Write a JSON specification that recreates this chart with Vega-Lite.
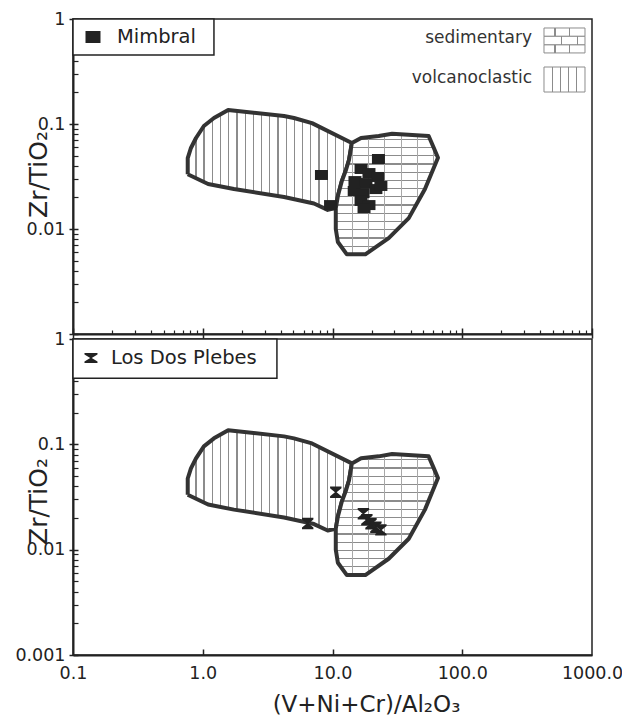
{
  "$schema": "https://vega.github.io/schema/vega-lite/v6.json",
  "padding": {"left": 14, "top": 9, "right": 0, "bottom": 0},
  "bounds": "flush",
  "spacing": 5,
  "background": "white",
  "config": {
    "view": {"stroke": "#222", "strokeWidth": 1.5},
    "axis": {"grid": false},
    "font": "DejaVu Sans"
  },
  "datasets": {
    "poly": [
      {"kind": "volc", "i": 1, "x": 0.766, "y": 0.0332},
      {"kind": "volc", "i": 2, "x": 0.766, "y": 0.0474},
      {"kind": "volc", "i": 3, "x": 0.811, "y": 0.0591},
      {"kind": "volc", "i": 4, "x": 0.887, "y": 0.0736},
      {"kind": "volc", "i": 5, "x": 1.02, "y": 0.0957},
      {"kind": "volc", "i": 6, "x": 1.22, "y": 0.114},
      {"kind": "volc", "i": 7, "x": 1.57, "y": 0.136},
      {"kind": "volc", "i": 8, "x": 4.23, "y": 0.119},
      {"kind": "volc", "i": 9, "x": 5.05, "y": 0.114},
      {"kind": "volc", "i": 10, "x": 6.95, "y": 0.102},
      {"kind": "volc", "i": 11, "x": 14.1, "y": 0.0659},
      {"kind": "volc", "i": 12, "x": 13.4, "y": 0.0454},
      {"kind": "volc", "i": 13, "x": 12.7, "y": 0.0365},
      {"kind": "volc", "i": 14, "x": 11.8, "y": 0.0286},
      {"kind": "volc", "i": 15, "x": 11.0, "y": 0.0206},
      {"kind": "volc", "i": 16, "x": 10.6, "y": 0.0158},
      {"kind": "volc", "i": 17, "x": 9.18, "y": 0.0152},
      {"kind": "volc", "i": 18, "x": 7.2, "y": 0.0175},
      {"kind": "volc", "i": 19, "x": 4.23, "y": 0.0202},
      {"kind": "volc", "i": 20, "x": 1.74, "y": 0.024},
      {"kind": "volc", "i": 21, "x": 1.1, "y": 0.0268},
      {"kind": "volc", "i": 22, "x": 0.766, "y": 0.0332},
      {"kind": "sed", "i": 1, "x": 14.1, "y": 0.0659},
      {"kind": "sed", "i": 2, "x": 16.6, "y": 0.0736},
      {"kind": "sed", "i": 3, "x": 22.7, "y": 0.0769},
      {"kind": "sed", "i": 4, "x": 28.8, "y": 0.0809},
      {"kind": "sed", "i": 5, "x": 55.1, "y": 0.0769},
      {"kind": "sed", "i": 6, "x": 60.3, "y": 0.0595},
      {"kind": "sed", "i": 7, "x": 65.0, "y": 0.0478},
      {"kind": "sed", "i": 8, "x": 51.6, "y": 0.024},
      {"kind": "sed", "i": 9, "x": 38.7, "y": 0.0127},
      {"kind": "sed", "i": 10, "x": 27.1, "y": 0.0082},
      {"kind": "sed", "i": 11, "x": 17.9, "y": 0.00574},
      {"kind": "sed", "i": 12, "x": 12.9, "y": 0.00574},
      {"kind": "sed", "i": 13, "x": 11.0, "y": 0.00752},
      {"kind": "sed", "i": 14, "x": 10.6, "y": 0.01},
      {"kind": "sed", "i": 15, "x": 10.6, "y": 0.0158},
      {"kind": "sed", "i": 16, "x": 11.0, "y": 0.0206},
      {"kind": "sed", "i": 17, "x": 11.8, "y": 0.0286},
      {"kind": "sed", "i": 18, "x": 12.7, "y": 0.0365},
      {"kind": "sed", "i": 19, "x": 13.4, "y": 0.0454},
      {"kind": "sed", "i": 20, "x": 14.1, "y": 0.0659}
    ],
    "pts": [
      {"site": "Mimbral", "x": 16.6, "y": 0.0373},
      {"site": "Mimbral", "x": 19.1, "y": 0.0341},
      {"site": "Mimbral", "x": 22.4, "y": 0.0313},
      {"site": "Mimbral", "x": 14.9, "y": 0.0286},
      {"site": "Mimbral", "x": 18.1, "y": 0.0274},
      {"site": "Mimbral", "x": 21.6, "y": 0.024},
      {"site": "Mimbral", "x": 14.7, "y": 0.023},
      {"site": "Mimbral", "x": 17.2, "y": 0.022},
      {"site": "Mimbral", "x": 16.6, "y": 0.0185},
      {"site": "Mimbral", "x": 19.1, "y": 0.0169},
      {"site": "Mimbral", "x": 17.5, "y": 0.0158},
      {"site": "Mimbral", "x": 22.6, "y": 0.0464},
      {"site": "Mimbral", "x": 8.22, "y": 0.0327},
      {"site": "Mimbral", "x": 9.66, "y": 0.0169},
      {"site": "Mimbral", "x": 23.6, "y": 0.0257},
      {"site": "Los Dos Plebes", "x": 10.6, "y": 0.0351},
      {"site": "Los Dos Plebes", "x": 6.44, "y": 0.0177},
      {"site": "Los Dos Plebes", "x": 17.3, "y": 0.0219},
      {"site": "Los Dos Plebes", "x": 18.4, "y": 0.0192},
      {"site": "Los Dos Plebes", "x": 19.8, "y": 0.0176},
      {"site": "Los Dos Plebes", "x": 21.6, "y": 0.0163},
      {"site": "Los Dos Plebes", "x": 23.6, "y": 0.0154}
    ],
    "leg": [
      {"panel": "top", "role": "box", "x": 0.1, "x2": 1.22, "y": 1, "y2": 0.454},
      {"panel": "top", "role": "sym", "x": 0.1426, "y": 0.674},
      {"panel": "top", "role": "lab", "x": 0.218, "y": 0.674, "label": "Mimbral"},
      {"panel": "top", "role": "plab", "x": 345, "y": 0.659, "label": "sedimentary"},
      {"panel": "top", "role": "plab", "x": 345, "y": 0.274, "label": "volcanoclastic"},
      {"panel": "top", "role": "vbox", "x": 426.6, "x2": 883, "y": 0.349, "y2": 0.2017},
      {"panel": "top", "role": "srow1", "x": 426.6, "x2": 883, "y": 0.821, "y2": 0.684},
      {"panel": "top", "role": "srow2", "x": 426.6, "x2": 883, "y": 0.684, "y2": 0.569},
      {"panel": "top", "role": "srow1", "x": 426.6, "x2": 883, "y": 0.569, "y2": 0.475},
      {"panel": "bottom", "role": "box", "x": 0.1, "x2": 3.73, "y": 1, "y2": 0.425},
      {"panel": "bottom", "role": "sym", "x": 0.1376, "y": 0.659},
      {"panel": "bottom", "role": "lab", "x": 0.196, "y": 0.659, "label": "Los Dos Plebes"}
    ]
  },
  "vconcat": [
    {
      "width": 519,
      "height": 315,
      "resolve": {"axis": {"x": "independent", "y": "independent"}},
      "layer": [
        {
          "data": {"name": "poly"},
          "transform": [{"filter": "datum.kind == 'volc'"}],
          "mark": {"type": "line", "stroke": "#333", "strokeWidth": 4, "strokeJoin": "round", "fill": {"gradient": "linear", "x1": 0, "y1": 0, "x2": 1, "y2": 0, "stops": [
            {"offset": 0, "color": "#fff"},
            {"offset": 0.046, "color": "#fff"}, {"offset": 0.046, "color": "#8c8c8c"}, {"offset": 0.054, "color": "#8c8c8c"}, {"offset": 0.054, "color": "#fff"},
            {"offset": 0.096, "color": "#fff"}, {"offset": 0.096, "color": "#8c8c8c"}, {"offset": 0.104, "color": "#8c8c8c"}, {"offset": 0.104, "color": "#fff"},
            {"offset": 0.146, "color": "#fff"}, {"offset": 0.146, "color": "#8c8c8c"}, {"offset": 0.154, "color": "#8c8c8c"}, {"offset": 0.154, "color": "#fff"},
            {"offset": 0.196, "color": "#fff"}, {"offset": 0.196, "color": "#8c8c8c"}, {"offset": 0.204, "color": "#8c8c8c"}, {"offset": 0.204, "color": "#fff"},
            {"offset": 0.246, "color": "#fff"}, {"offset": 0.246, "color": "#8c8c8c"}, {"offset": 0.254, "color": "#8c8c8c"}, {"offset": 0.254, "color": "#fff"},
            {"offset": 0.296, "color": "#fff"}, {"offset": 0.296, "color": "#8c8c8c"}, {"offset": 0.304, "color": "#8c8c8c"}, {"offset": 0.304, "color": "#fff"},
            {"offset": 0.346, "color": "#fff"}, {"offset": 0.346, "color": "#8c8c8c"}, {"offset": 0.354, "color": "#8c8c8c"}, {"offset": 0.354, "color": "#fff"},
            {"offset": 0.396, "color": "#fff"}, {"offset": 0.396, "color": "#8c8c8c"}, {"offset": 0.404, "color": "#8c8c8c"}, {"offset": 0.404, "color": "#fff"},
            {"offset": 0.446, "color": "#fff"}, {"offset": 0.446, "color": "#8c8c8c"}, {"offset": 0.454, "color": "#8c8c8c"}, {"offset": 0.454, "color": "#fff"},
            {"offset": 0.496, "color": "#fff"}, {"offset": 0.496, "color": "#8c8c8c"}, {"offset": 0.504, "color": "#8c8c8c"}, {"offset": 0.504, "color": "#fff"},
            {"offset": 0.546, "color": "#fff"}, {"offset": 0.546, "color": "#8c8c8c"}, {"offset": 0.554, "color": "#8c8c8c"}, {"offset": 0.554, "color": "#fff"},
            {"offset": 0.596, "color": "#fff"}, {"offset": 0.596, "color": "#8c8c8c"}, {"offset": 0.604, "color": "#8c8c8c"}, {"offset": 0.604, "color": "#fff"},
            {"offset": 0.646, "color": "#fff"}, {"offset": 0.646, "color": "#8c8c8c"}, {"offset": 0.654, "color": "#8c8c8c"}, {"offset": 0.654, "color": "#fff"},
            {"offset": 0.696, "color": "#fff"}, {"offset": 0.696, "color": "#8c8c8c"}, {"offset": 0.704, "color": "#8c8c8c"}, {"offset": 0.704, "color": "#fff"},
            {"offset": 0.746, "color": "#fff"}, {"offset": 0.746, "color": "#8c8c8c"}, {"offset": 0.754, "color": "#8c8c8c"}, {"offset": 0.754, "color": "#fff"},
            {"offset": 0.796, "color": "#fff"}, {"offset": 0.796, "color": "#8c8c8c"}, {"offset": 0.804, "color": "#8c8c8c"}, {"offset": 0.804, "color": "#fff"},
            {"offset": 0.846, "color": "#fff"}, {"offset": 0.846, "color": "#8c8c8c"}, {"offset": 0.854, "color": "#8c8c8c"}, {"offset": 0.854, "color": "#fff"},
            {"offset": 0.896, "color": "#fff"}, {"offset": 0.896, "color": "#8c8c8c"}, {"offset": 0.904, "color": "#8c8c8c"}, {"offset": 0.904, "color": "#fff"},
            {"offset": 0.946, "color": "#fff"}, {"offset": 0.946, "color": "#8c8c8c"}, {"offset": 0.954, "color": "#8c8c8c"}, {"offset": 0.954, "color": "#fff"},
            {"offset": 1, "color": "#fff"}]}},
          "encoding": {
            "x": {"field": "x", "type": "quantitative", "scale": {"type": "log", "domain": [0.1, 1000], "nice": false},
              "axis": {"orient": "bottom", "values": [0.1, 1, 10, 100, 1000], "labels": false, "ticks": false, "domainColor": "#222", "domainWidth": 2, "title": null}},
            "y": {"field": "y", "type": "quantitative", "scale": {"type": "log", "domain": [0.001, 1], "nice": false},
              "axis": {"orient": "left", "values": [0.01, 0.1, 1], "format": "~g", "labelFlush": false, "labelOverlap": false, "ticks": false, "domainColor": "#222", "domainWidth": 2, "labelFont": "DejaVu Sans", "labelFontSize": 17.5, "labelColor": "#222", "labelPadding": 8,
                "title": "Zr/TiO₂", "titleFont": "DejaVu Sans", "titleFontSize": 25, "titleFontWeight": "normal", "titleColor": "#222", "titleX": -27, "titleY": 155, "titleBaseline": "alphabetic", "titleAlign": "center", "titleAngle": -90}},
            "order": {"field": "i", "type": "quantitative"}
          }
        },
        {
          "data": {"name": "poly"},
          "transform": [{"filter": "datum.kind == 'sed'"}],
          "mark": {"type": "line", "strokeWidth": 0, "stroke": "#333", "fill": {"gradient": "linear", "x1": 0, "y1": 0, "x2": 0, "y2": 1, "stops": [
            {"offset": 0, "color": "#fff"},
            {"offset": 0.043, "color": "#fff"}, {"offset": 0.043, "color": "#8c8c8c"}, {"offset": 0.053, "color": "#8c8c8c"}, {"offset": 0.053, "color": "#fff"},
            {"offset": 0.111, "color": "#fff"}, {"offset": 0.111, "color": "#8c8c8c"}, {"offset": 0.121, "color": "#8c8c8c"}, {"offset": 0.121, "color": "#fff"},
            {"offset": 0.179, "color": "#fff"}, {"offset": 0.179, "color": "#8c8c8c"}, {"offset": 0.189, "color": "#8c8c8c"}, {"offset": 0.189, "color": "#fff"},
            {"offset": 0.247, "color": "#fff"}, {"offset": 0.247, "color": "#8c8c8c"}, {"offset": 0.257, "color": "#8c8c8c"}, {"offset": 0.257, "color": "#fff"},
            {"offset": 0.315, "color": "#fff"}, {"offset": 0.315, "color": "#8c8c8c"}, {"offset": 0.325, "color": "#8c8c8c"}, {"offset": 0.325, "color": "#fff"},
            {"offset": 0.383, "color": "#fff"}, {"offset": 0.383, "color": "#8c8c8c"}, {"offset": 0.393, "color": "#8c8c8c"}, {"offset": 0.393, "color": "#fff"},
            {"offset": 0.451, "color": "#fff"}, {"offset": 0.451, "color": "#8c8c8c"}, {"offset": 0.461, "color": "#8c8c8c"}, {"offset": 0.461, "color": "#fff"},
            {"offset": 0.519, "color": "#fff"}, {"offset": 0.519, "color": "#8c8c8c"}, {"offset": 0.529, "color": "#8c8c8c"}, {"offset": 0.529, "color": "#fff"},
            {"offset": 0.587, "color": "#fff"}, {"offset": 0.587, "color": "#8c8c8c"}, {"offset": 0.597, "color": "#8c8c8c"}, {"offset": 0.597, "color": "#fff"},
            {"offset": 0.655, "color": "#fff"}, {"offset": 0.655, "color": "#8c8c8c"}, {"offset": 0.665, "color": "#8c8c8c"}, {"offset": 0.665, "color": "#fff"},
            {"offset": 0.723, "color": "#fff"}, {"offset": 0.723, "color": "#8c8c8c"}, {"offset": 0.733, "color": "#8c8c8c"}, {"offset": 0.733, "color": "#fff"},
            {"offset": 0.791, "color": "#fff"}, {"offset": 0.791, "color": "#8c8c8c"}, {"offset": 0.801, "color": "#8c8c8c"}, {"offset": 0.801, "color": "#fff"},
            {"offset": 0.859, "color": "#fff"}, {"offset": 0.859, "color": "#8c8c8c"}, {"offset": 0.869, "color": "#8c8c8c"}, {"offset": 0.869, "color": "#fff"},
            {"offset": 0.927, "color": "#fff"}, {"offset": 0.927, "color": "#8c8c8c"}, {"offset": 0.937, "color": "#8c8c8c"}, {"offset": 0.937, "color": "#fff"},
            {"offset": 1, "color": "#fff"}]}},
          "encoding": {
            "x": {"field": "x", "type": "quantitative", "scale": {"type": "log", "domain": [0.1, 1000], "nice": false},
              "axis": {"orient": "bottom", "values": [0.1, 1, 10, 100, 1000], "labels": false, "domain": false, "tickSize": 10, "offset": -6, "tickWidth": 1.5, "tickColor": "#222", "title": null}},
            "y": {"field": "y", "type": "quantitative", "scale": {"type": "log", "domain": [0.001, 1], "nice": false},
              "axis": {"orient": "left", "values": [0.001, 0.01, 0.1, 1], "labels": false, "domain": false, "tickSize": 9, "offset": -5, "tickWidth": 1.5, "tickColor": "#222", "title": null}},
            "order": {"field": "i", "type": "quantitative"}
          }
        },
        {
          "data": {"name": "poly"},
          "transform": [{"filter": "datum.kind == 'sed'"}],
          "mark": {"type": "line", "stroke": "#333", "strokeWidth": 4, "strokeJoin": "round", "fill": {"gradient": "linear", "x1": 0, "y1": 0, "x2": 1, "y2": 0, "stops": [
            {"offset": 0, "color": "rgba(255,255,255,0)"},
            {"offset": 0.155, "color": "rgba(255,255,255,0)"}, {"offset": 0.155, "color": "#a8a8a8"}, {"offset": 0.165, "color": "#a8a8a8"}, {"offset": 0.165, "color": "rgba(255,255,255,0)"},
            {"offset": 0.315, "color": "rgba(255,255,255,0)"}, {"offset": 0.315, "color": "#a8a8a8"}, {"offset": 0.325, "color": "#a8a8a8"}, {"offset": 0.325, "color": "rgba(255,255,255,0)"},
            {"offset": 0.475, "color": "rgba(255,255,255,0)"}, {"offset": 0.475, "color": "#a8a8a8"}, {"offset": 0.485, "color": "#a8a8a8"}, {"offset": 0.485, "color": "rgba(255,255,255,0)"},
            {"offset": 0.635, "color": "rgba(255,255,255,0)"}, {"offset": 0.635, "color": "#a8a8a8"}, {"offset": 0.645, "color": "#a8a8a8"}, {"offset": 0.645, "color": "rgba(255,255,255,0)"},
            {"offset": 0.795, "color": "rgba(255,255,255,0)"}, {"offset": 0.795, "color": "#a8a8a8"}, {"offset": 0.805, "color": "#a8a8a8"}, {"offset": 0.805, "color": "rgba(255,255,255,0)"},
            {"offset": 0.955, "color": "rgba(255,255,255,0)"}, {"offset": 0.955, "color": "#a8a8a8"}, {"offset": 0.965, "color": "#a8a8a8"}, {"offset": 0.965, "color": "rgba(255,255,255,0)"},
            {"offset": 1, "color": "rgba(255,255,255,0)"}]}},
          "encoding": {
            "x": {"field": "x", "type": "quantitative", "scale": {"type": "log", "domain": [0.1, 1000], "nice": false}, "axis": null},
            "y": {"field": "y", "type": "quantitative", "scale": {"type": "log", "domain": [0.001, 1], "nice": false}, "axis": null},
            "order": {"field": "i", "type": "quantitative"}
          }
        },
        {
          "data": {"name": "pts"},
          "transform": [{"filter": "datum.site == 'Mimbral'"}],
          "mark": {"type": "point", "shape": "M-1.3,-1H1.3V1H-1.3Z", "size": 100, "filled": true, "color": "#222", "opacity": 1, "strokeWidth": 0},
          "encoding": {
            "x": {"field": "x", "type": "quantitative", "scale": {"type": "log", "domain": [0.1, 1000], "nice": false},
              "axis": {"orient": "bottom", "values": [0.2, 0.3, 0.4, 0.5, 0.6, 0.7, 0.8, 0.9, 2, 3, 4, 5, 6, 7, 8, 9, 20, 30, 40, 50, 60, 70, 80, 90, 200, 300, 400, 500, 600, 700, 800, 900], "labels": false, "domain": false, "tickSize": 4, "offset": -4, "tickWidth": 1.2, "tickColor": "#222", "title": null}},
            "y": {"field": "y", "type": "quantitative", "scale": {"type": "log", "domain": [0.001, 1], "nice": false},
              "axis": {"orient": "left", "values": [0.002, 0.003, 0.004, 0.005, 0.006, 0.007, 0.008, 0.009, 0.02, 0.03, 0.04, 0.05, 0.06, 0.07, 0.08, 0.09, 0.2, 0.3, 0.4, 0.5, 0.6, 0.7, 0.8, 0.9], "labels": false, "domain": false, "tickSize": 5, "offset": -5, "tickWidth": 1.2, "tickColor": "#222", "title": null}}
          }
        },
        {
          "data": {"name": "leg"},
          "transform": [{"filter": "datum.panel == 'top' && datum.role == 'box'"}],
          "mark": {"type": "rect", "fill": "white", "stroke": "#222", "strokeWidth": 1.5},
          "encoding": {
            "x": {"field": "x", "type": "quantitative", "scale": {"type": "log", "domain": [0.1, 1000], "nice": false}, "axis": null},
            "x2": {"field": "x2"},
            "y": {"field": "y", "type": "quantitative", "scale": {"type": "log", "domain": [0.001, 1], "nice": false}, "axis": null},
            "y2": {"field": "y2"}
          }
        },
        {
          "data": {"name": "leg"},
          "transform": [{"filter": "datum.panel == 'top' && datum.role == 'sym'"}],
          "mark": {"type": "point", "shape": "M-1.25,-1H1.25V1H-1.25Z", "size": 144, "filled": true, "color": "#222", "opacity": 1, "strokeWidth": 0},
          "encoding": {
            "x": {"field": "x", "type": "quantitative", "scale": {"type": "log", "domain": [0.1, 1000], "nice": false}, "axis": null},
            "y": {"field": "y", "type": "quantitative", "scale": {"type": "log", "domain": [0.001, 1], "nice": false}, "axis": null}
          }
        },
        {
          "data": {"name": "leg"},
          "transform": [{"filter": "datum.panel == 'top' && datum.role == 'lab'"}],
          "mark": {"type": "text", "align": "left", "baseline": "middle", "font": "DejaVu Sans", "fontSize": 19.5, "color": "#222"},
          "encoding": {
            "x": {"field": "x", "type": "quantitative", "scale": {"type": "log", "domain": [0.1, 1000], "nice": false}, "axis": null},
            "y": {"field": "y", "type": "quantitative", "scale": {"type": "log", "domain": [0.001, 1], "nice": false}, "axis": null},
            "text": {"field": "label"}
          }
        },
        {
          "data": {"name": "leg"},
          "transform": [{"filter": "datum.panel == 'top' && datum.role == 'plab'"}],
          "mark": {"type": "text", "align": "right", "baseline": "middle", "font": "DejaVu Sans", "fontSize": 17, "color": "#333"},
          "encoding": {
            "x": {"field": "x", "type": "quantitative", "scale": {"type": "log", "domain": [0.1, 1000], "nice": false}, "axis": null},
            "y": {"field": "y", "type": "quantitative", "scale": {"type": "log", "domain": [0.001, 1], "nice": false}, "axis": null},
            "text": {"field": "label"}
          }
        },
        {
          "data": {"name": "leg"},
          "transform": [{"filter": "datum.role == 'vbox'"}],
          "mark": {"type": "rect", "stroke": "#8c8c8c", "strokeWidth": 1, "fill": {"gradient": "linear", "x1": 0, "y1": 0, "x2": 1, "y2": 0, "stops": [
            {"offset": 0, "color": "#fff"},
            {"offset": 0.186, "color": "#fff"}, {"offset": 0.186, "color": "#8c8c8c"}, {"offset": 0.214, "color": "#8c8c8c"}, {"offset": 0.214, "color": "#fff"},
            {"offset": 0.386, "color": "#fff"}, {"offset": 0.386, "color": "#8c8c8c"}, {"offset": 0.414, "color": "#8c8c8c"}, {"offset": 0.414, "color": "#fff"},
            {"offset": 0.586, "color": "#fff"}, {"offset": 0.586, "color": "#8c8c8c"}, {"offset": 0.614, "color": "#8c8c8c"}, {"offset": 0.614, "color": "#fff"},
            {"offset": 0.786, "color": "#fff"}, {"offset": 0.786, "color": "#8c8c8c"}, {"offset": 0.814, "color": "#8c8c8c"}, {"offset": 0.814, "color": "#fff"},
            {"offset": 1, "color": "#fff"}]}},
          "encoding": {
            "x": {"field": "x", "type": "quantitative", "scale": {"type": "log", "domain": [0.1, 1000], "nice": false}, "axis": null},
            "x2": {"field": "x2"},
            "y": {"field": "y", "type": "quantitative", "scale": {"type": "log", "domain": [0.001, 1], "nice": false}, "axis": null},
            "y2": {"field": "y2"}
          }
        },
        {
          "data": {"name": "leg"},
          "transform": [{"filter": "datum.role == 'srow1'"}],
          "mark": {"type": "rect", "stroke": "#8c8c8c", "strokeWidth": 1, "fill": {"gradient": "linear", "x1": 0, "y1": 0, "x2": 1, "y2": 0, "stops": [
            {"offset": 0, "color": "#fff"},
            {"offset": 0.256, "color": "#fff"}, {"offset": 0.256, "color": "#8c8c8c"}, {"offset": 0.284, "color": "#8c8c8c"}, {"offset": 0.284, "color": "#fff"},
            {"offset": 0.616, "color": "#fff"}, {"offset": 0.616, "color": "#8c8c8c"}, {"offset": 0.644, "color": "#8c8c8c"}, {"offset": 0.644, "color": "#fff"},
            {"offset": 1, "color": "#fff"}]}},
          "encoding": {
            "x": {"field": "x", "type": "quantitative", "scale": {"type": "log", "domain": [0.1, 1000], "nice": false}, "axis": null},
            "x2": {"field": "x2"},
            "y": {"field": "y", "type": "quantitative", "scale": {"type": "log", "domain": [0.001, 1], "nice": false}, "axis": null},
            "y2": {"field": "y2"}
          }
        },
        {
          "data": {"name": "leg"},
          "transform": [{"filter": "datum.role == 'srow2'"}],
          "mark": {"type": "rect", "stroke": "#8c8c8c", "strokeWidth": 1, "fill": {"gradient": "linear", "x1": 0, "y1": 0, "x2": 1, "y2": 0, "stops": [
            {"offset": 0, "color": "#fff"},
            {"offset": 0.416, "color": "#fff"}, {"offset": 0.416, "color": "#8c8c8c"}, {"offset": 0.444, "color": "#8c8c8c"}, {"offset": 0.444, "color": "#fff"},
            {"offset": 0.806, "color": "#fff"}, {"offset": 0.806, "color": "#8c8c8c"}, {"offset": 0.834, "color": "#8c8c8c"}, {"offset": 0.834, "color": "#fff"},
            {"offset": 1, "color": "#fff"}]}},
          "encoding": {
            "x": {"field": "x", "type": "quantitative", "scale": {"type": "log", "domain": [0.1, 1000], "nice": false}, "axis": null},
            "x2": {"field": "x2"},
            "y": {"field": "y", "type": "quantitative", "scale": {"type": "log", "domain": [0.001, 1], "nice": false}, "axis": null},
            "y2": {"field": "y2"}
          }
        }
      ]
    },
    {
      "width": 519,
      "height": 316,
      "resolve": {"axis": {"x": "independent", "y": "independent"}},
      "layer": [
        {
          "data": {"name": "poly"},
          "transform": [{"filter": "datum.kind == 'volc'"}],
          "mark": {"type": "line", "stroke": "#333", "strokeWidth": 4, "strokeJoin": "round", "fill": {"gradient": "linear", "x1": 0, "y1": 0, "x2": 1, "y2": 0, "stops": [
            {"offset": 0, "color": "#fff"},
            {"offset": 0.046, "color": "#fff"}, {"offset": 0.046, "color": "#8c8c8c"}, {"offset": 0.054, "color": "#8c8c8c"}, {"offset": 0.054, "color": "#fff"},
            {"offset": 0.096, "color": "#fff"}, {"offset": 0.096, "color": "#8c8c8c"}, {"offset": 0.104, "color": "#8c8c8c"}, {"offset": 0.104, "color": "#fff"},
            {"offset": 0.146, "color": "#fff"}, {"offset": 0.146, "color": "#8c8c8c"}, {"offset": 0.154, "color": "#8c8c8c"}, {"offset": 0.154, "color": "#fff"},
            {"offset": 0.196, "color": "#fff"}, {"offset": 0.196, "color": "#8c8c8c"}, {"offset": 0.204, "color": "#8c8c8c"}, {"offset": 0.204, "color": "#fff"},
            {"offset": 0.246, "color": "#fff"}, {"offset": 0.246, "color": "#8c8c8c"}, {"offset": 0.254, "color": "#8c8c8c"}, {"offset": 0.254, "color": "#fff"},
            {"offset": 0.296, "color": "#fff"}, {"offset": 0.296, "color": "#8c8c8c"}, {"offset": 0.304, "color": "#8c8c8c"}, {"offset": 0.304, "color": "#fff"},
            {"offset": 0.346, "color": "#fff"}, {"offset": 0.346, "color": "#8c8c8c"}, {"offset": 0.354, "color": "#8c8c8c"}, {"offset": 0.354, "color": "#fff"},
            {"offset": 0.396, "color": "#fff"}, {"offset": 0.396, "color": "#8c8c8c"}, {"offset": 0.404, "color": "#8c8c8c"}, {"offset": 0.404, "color": "#fff"},
            {"offset": 0.446, "color": "#fff"}, {"offset": 0.446, "color": "#8c8c8c"}, {"offset": 0.454, "color": "#8c8c8c"}, {"offset": 0.454, "color": "#fff"},
            {"offset": 0.496, "color": "#fff"}, {"offset": 0.496, "color": "#8c8c8c"}, {"offset": 0.504, "color": "#8c8c8c"}, {"offset": 0.504, "color": "#fff"},
            {"offset": 0.546, "color": "#fff"}, {"offset": 0.546, "color": "#8c8c8c"}, {"offset": 0.554, "color": "#8c8c8c"}, {"offset": 0.554, "color": "#fff"},
            {"offset": 0.596, "color": "#fff"}, {"offset": 0.596, "color": "#8c8c8c"}, {"offset": 0.604, "color": "#8c8c8c"}, {"offset": 0.604, "color": "#fff"},
            {"offset": 0.646, "color": "#fff"}, {"offset": 0.646, "color": "#8c8c8c"}, {"offset": 0.654, "color": "#8c8c8c"}, {"offset": 0.654, "color": "#fff"},
            {"offset": 0.696, "color": "#fff"}, {"offset": 0.696, "color": "#8c8c8c"}, {"offset": 0.704, "color": "#8c8c8c"}, {"offset": 0.704, "color": "#fff"},
            {"offset": 0.746, "color": "#fff"}, {"offset": 0.746, "color": "#8c8c8c"}, {"offset": 0.754, "color": "#8c8c8c"}, {"offset": 0.754, "color": "#fff"},
            {"offset": 0.796, "color": "#fff"}, {"offset": 0.796, "color": "#8c8c8c"}, {"offset": 0.804, "color": "#8c8c8c"}, {"offset": 0.804, "color": "#fff"},
            {"offset": 0.846, "color": "#fff"}, {"offset": 0.846, "color": "#8c8c8c"}, {"offset": 0.854, "color": "#8c8c8c"}, {"offset": 0.854, "color": "#fff"},
            {"offset": 0.896, "color": "#fff"}, {"offset": 0.896, "color": "#8c8c8c"}, {"offset": 0.904, "color": "#8c8c8c"}, {"offset": 0.904, "color": "#fff"},
            {"offset": 0.946, "color": "#fff"}, {"offset": 0.946, "color": "#8c8c8c"}, {"offset": 0.954, "color": "#8c8c8c"}, {"offset": 0.954, "color": "#fff"},
            {"offset": 1, "color": "#fff"}]}},
          "encoding": {
            "x": {"field": "x", "type": "quantitative", "scale": {"type": "log", "domain": [0.1, 1000], "nice": false},
              "axis": {"orient": "bottom", "values": [0.1, 1, 10, 100, 1000], "format": ".1f", "labelFlush": false, "labelOverlap": false, "ticks": false, "domainColor": "#222", "domainWidth": 2, "labelFont": "DejaVu Sans", "labelFontSize": 17.5, "labelColor": "#222", "labelPadding": 9,
                "title": "(V+Ni+Cr)/Al₂O₃", "titleFont": "DejaVu Sans", "titleFontSize": 23, "titleFontWeight": "normal", "titleColor": "#222", "titleX": 293, "titleY": 56, "titleBaseline": "alphabetic", "titleAlign": "center"}},
            "y": {"field": "y", "type": "quantitative", "scale": {"type": "log", "domain": [0.001, 1], "nice": false},
              "axis": {"orient": "left", "values": [0.001, 0.01, 0.1, 1], "format": "~g", "labelFlush": false, "labelOverlap": false, "ticks": false, "domainColor": "#222", "domainWidth": 2, "labelFont": "DejaVu Sans", "labelFontSize": 17.5, "labelColor": "#222", "labelPadding": 8,
                "title": "Zr/TiO₂", "titleFont": "DejaVu Sans", "titleFontSize": 25, "titleFontWeight": "normal", "titleColor": "#222", "titleX": -27, "titleY": 162, "titleBaseline": "alphabetic", "titleAlign": "center", "titleAngle": -90}},
            "order": {"field": "i", "type": "quantitative"}
          }
        },
        {
          "data": {"name": "poly"},
          "transform": [{"filter": "datum.kind == 'sed'"}],
          "mark": {"type": "line", "strokeWidth": 0, "stroke": "#333", "fill": {"gradient": "linear", "x1": 0, "y1": 0, "x2": 0, "y2": 1, "stops": [
            {"offset": 0, "color": "#fff"},
            {"offset": 0.043, "color": "#fff"}, {"offset": 0.043, "color": "#8c8c8c"}, {"offset": 0.053, "color": "#8c8c8c"}, {"offset": 0.053, "color": "#fff"},
            {"offset": 0.111, "color": "#fff"}, {"offset": 0.111, "color": "#8c8c8c"}, {"offset": 0.121, "color": "#8c8c8c"}, {"offset": 0.121, "color": "#fff"},
            {"offset": 0.179, "color": "#fff"}, {"offset": 0.179, "color": "#8c8c8c"}, {"offset": 0.189, "color": "#8c8c8c"}, {"offset": 0.189, "color": "#fff"},
            {"offset": 0.247, "color": "#fff"}, {"offset": 0.247, "color": "#8c8c8c"}, {"offset": 0.257, "color": "#8c8c8c"}, {"offset": 0.257, "color": "#fff"},
            {"offset": 0.315, "color": "#fff"}, {"offset": 0.315, "color": "#8c8c8c"}, {"offset": 0.325, "color": "#8c8c8c"}, {"offset": 0.325, "color": "#fff"},
            {"offset": 0.383, "color": "#fff"}, {"offset": 0.383, "color": "#8c8c8c"}, {"offset": 0.393, "color": "#8c8c8c"}, {"offset": 0.393, "color": "#fff"},
            {"offset": 0.451, "color": "#fff"}, {"offset": 0.451, "color": "#8c8c8c"}, {"offset": 0.461, "color": "#8c8c8c"}, {"offset": 0.461, "color": "#fff"},
            {"offset": 0.519, "color": "#fff"}, {"offset": 0.519, "color": "#8c8c8c"}, {"offset": 0.529, "color": "#8c8c8c"}, {"offset": 0.529, "color": "#fff"},
            {"offset": 0.587, "color": "#fff"}, {"offset": 0.587, "color": "#8c8c8c"}, {"offset": 0.597, "color": "#8c8c8c"}, {"offset": 0.597, "color": "#fff"},
            {"offset": 0.655, "color": "#fff"}, {"offset": 0.655, "color": "#8c8c8c"}, {"offset": 0.665, "color": "#8c8c8c"}, {"offset": 0.665, "color": "#fff"},
            {"offset": 0.723, "color": "#fff"}, {"offset": 0.723, "color": "#8c8c8c"}, {"offset": 0.733, "color": "#8c8c8c"}, {"offset": 0.733, "color": "#fff"},
            {"offset": 0.791, "color": "#fff"}, {"offset": 0.791, "color": "#8c8c8c"}, {"offset": 0.801, "color": "#8c8c8c"}, {"offset": 0.801, "color": "#fff"},
            {"offset": 0.859, "color": "#fff"}, {"offset": 0.859, "color": "#8c8c8c"}, {"offset": 0.869, "color": "#8c8c8c"}, {"offset": 0.869, "color": "#fff"},
            {"offset": 0.927, "color": "#fff"}, {"offset": 0.927, "color": "#8c8c8c"}, {"offset": 0.937, "color": "#8c8c8c"}, {"offset": 0.937, "color": "#fff"},
            {"offset": 1, "color": "#fff"}]}},
          "encoding": {
            "x": {"field": "x", "type": "quantitative", "scale": {"type": "log", "domain": [0.1, 1000], "nice": false},
              "axis": {"orient": "bottom", "values": [1, 10, 100], "labels": false, "domain": false, "tickSize": 6, "offset": -6, "tickWidth": 1.5, "tickColor": "#222", "title": null}},
            "y": {"field": "y", "type": "quantitative", "scale": {"type": "log", "domain": [0.001, 1], "nice": false},
              "axis": {"orient": "left", "values": [0.001, 0.01, 0.1, 1], "labels": false, "domain": false, "tickSize": 9, "offset": -5, "tickWidth": 1.5, "tickColor": "#222", "title": null}},
            "order": {"field": "i", "type": "quantitative"}
          }
        },
        {
          "data": {"name": "poly"},
          "transform": [{"filter": "datum.kind == 'sed'"}],
          "mark": {"type": "line", "stroke": "#333", "strokeWidth": 4, "strokeJoin": "round", "fill": {"gradient": "linear", "x1": 0, "y1": 0, "x2": 1, "y2": 0, "stops": [
            {"offset": 0, "color": "rgba(255,255,255,0)"},
            {"offset": 0.155, "color": "rgba(255,255,255,0)"}, {"offset": 0.155, "color": "#a8a8a8"}, {"offset": 0.165, "color": "#a8a8a8"}, {"offset": 0.165, "color": "rgba(255,255,255,0)"},
            {"offset": 0.315, "color": "rgba(255,255,255,0)"}, {"offset": 0.315, "color": "#a8a8a8"}, {"offset": 0.325, "color": "#a8a8a8"}, {"offset": 0.325, "color": "rgba(255,255,255,0)"},
            {"offset": 0.475, "color": "rgba(255,255,255,0)"}, {"offset": 0.475, "color": "#a8a8a8"}, {"offset": 0.485, "color": "#a8a8a8"}, {"offset": 0.485, "color": "rgba(255,255,255,0)"},
            {"offset": 0.635, "color": "rgba(255,255,255,0)"}, {"offset": 0.635, "color": "#a8a8a8"}, {"offset": 0.645, "color": "#a8a8a8"}, {"offset": 0.645, "color": "rgba(255,255,255,0)"},
            {"offset": 0.795, "color": "rgba(255,255,255,0)"}, {"offset": 0.795, "color": "#a8a8a8"}, {"offset": 0.805, "color": "#a8a8a8"}, {"offset": 0.805, "color": "rgba(255,255,255,0)"},
            {"offset": 0.955, "color": "rgba(255,255,255,0)"}, {"offset": 0.955, "color": "#a8a8a8"}, {"offset": 0.965, "color": "#a8a8a8"}, {"offset": 0.965, "color": "rgba(255,255,255,0)"},
            {"offset": 1, "color": "rgba(255,255,255,0)"}]}},
          "encoding": {
            "x": {"field": "x", "type": "quantitative", "scale": {"type": "log", "domain": [0.1, 1000], "nice": false}, "axis": null},
            "y": {"field": "y", "type": "quantitative", "scale": {"type": "log", "domain": [0.001, 1], "nice": false}, "axis": null},
            "order": {"field": "i", "type": "quantitative"}
          }
        },
        {
          "data": {"name": "pts"},
          "transform": [{"filter": "datum.site == 'Los Dos Plebes'"}],
          "mark": {"type": "point", "shape": "M-1,-1H1V-0.7L0.15,0L1,0.7V1H-1V0.7L-0.15,0L-1,-0.7Z", "size": 130, "filled": true, "color": "#222", "opacity": 1, "strokeWidth": 0},
          "encoding": {
            "x": {"field": "x", "type": "quantitative", "scale": {"type": "log", "domain": [0.1, 1000], "nice": false}, "axis": null},
            "y": {"field": "y", "type": "quantitative", "scale": {"type": "log", "domain": [0.001, 1], "nice": false},
              "axis": {"orient": "left", "values": [0.002, 0.003, 0.004, 0.005, 0.006, 0.007, 0.008, 0.009, 0.02, 0.03, 0.04, 0.05, 0.06, 0.07, 0.08, 0.09, 0.2, 0.3, 0.4, 0.5, 0.6, 0.7, 0.8, 0.9], "labels": false, "domain": false, "tickSize": 5, "offset": -5, "tickWidth": 1.2, "tickColor": "#222", "title": null}}
          }
        },
        {
          "data": {"name": "leg"},
          "transform": [{"filter": "datum.panel == 'bottom' && datum.role == 'box'"}],
          "mark": {"type": "rect", "fill": "white", "stroke": "#222", "strokeWidth": 1.5},
          "encoding": {
            "x": {"field": "x", "type": "quantitative", "scale": {"type": "log", "domain": [0.1, 1000], "nice": false}, "axis": null},
            "x2": {"field": "x2"},
            "y": {"field": "y", "type": "quantitative", "scale": {"type": "log", "domain": [0.001, 1], "nice": false}, "axis": null},
            "y2": {"field": "y2"}
          }
        },
        {
          "data": {"name": "leg"},
          "transform": [{"filter": "datum.panel == 'bottom' && datum.role == 'sym'"}],
          "mark": {"type": "point", "shape": "M-1.3,-1H1.3V-0.7L0.15,0L1.3,0.7V1H-1.3V0.7L-0.15,0L-1.3,-0.7Z", "size": 100, "filled": true, "color": "#222", "opacity": 1, "strokeWidth": 0},
          "encoding": {
            "x": {"field": "x", "type": "quantitative", "scale": {"type": "log", "domain": [0.1, 1000], "nice": false}, "axis": null},
            "y": {"field": "y", "type": "quantitative", "scale": {"type": "log", "domain": [0.001, 1], "nice": false}, "axis": null}
          }
        },
        {
          "data": {"name": "leg"},
          "transform": [{"filter": "datum.panel == 'bottom' && datum.role == 'lab'"}],
          "mark": {"type": "text", "align": "left", "baseline": "middle", "font": "DejaVu Sans", "fontSize": 19.5, "color": "#222"},
          "encoding": {
            "x": {"field": "x", "type": "quantitative", "scale": {"type": "log", "domain": [0.1, 1000], "nice": false}, "axis": null},
            "y": {"field": "y", "type": "quantitative", "scale": {"type": "log", "domain": [0.001, 1], "nice": false}, "axis": null},
            "text": {"field": "label"}
          }
        }
      ]
    }
  ]
}
